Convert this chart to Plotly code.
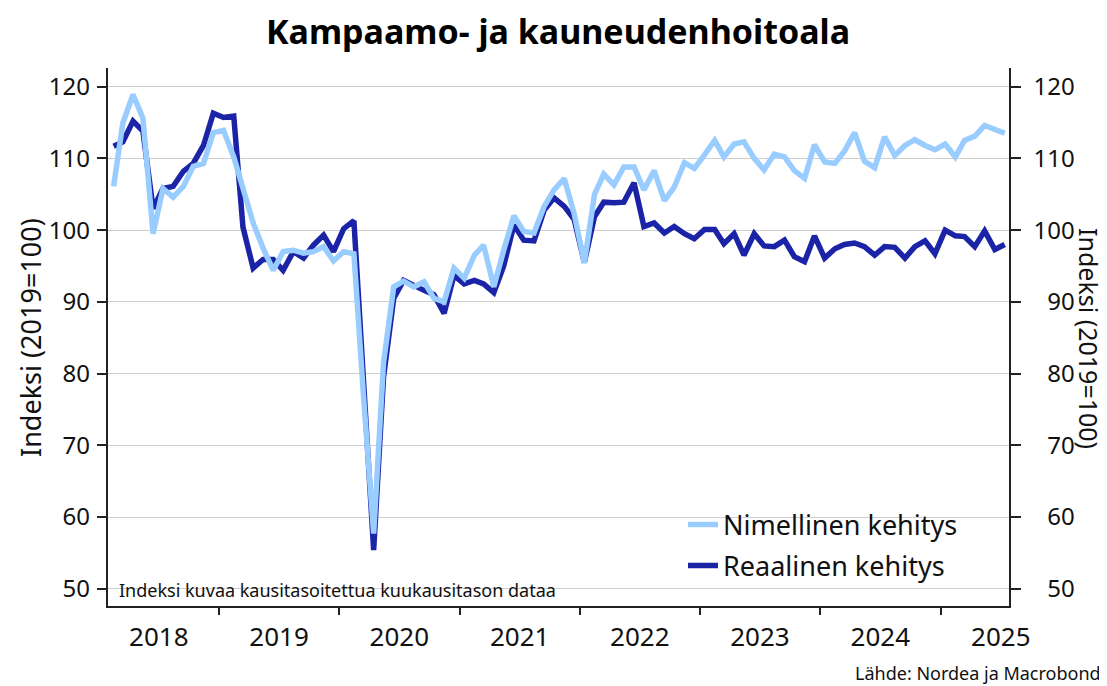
import pandas as pd
import plotly.graph_objects as go

# --- Data (monthly, Feb 2018 .. Jul 2025), index 2019=100 ---
start_month = "2018-02-01"
nimellinen = [
    106.1, 114.9, 118.9, 115.6, 99.5, 105.8, 104.6, 106.1, 108.9, 109.3, 113.6, 113.9,
    110.2, 106.0, 101.0, 97.5, 94.4, 97.0, 97.2, 96.8, 97.0, 97.7, 95.7, 97.0,
    96.7, 77.0, 57.7, 81.5, 92.1, 92.9, 92.1, 92.8, 90.5, 90.0, 94.7, 93.3,
    96.5, 97.9, 92.1, 97.2, 102.0, 99.8, 99.6, 103.3, 105.6, 107.2, 102.3, 95.4,
    105.0, 107.8, 106.3, 108.8, 108.8, 105.6, 108.3, 104.1, 106.0, 109.4, 108.6, 110.5,
    112.5, 110.2, 112.0, 112.3, 110.0, 108.4, 110.6, 110.2, 108.3, 107.2, 111.9, 109.5,
    109.3, 111.0, 113.6, 109.6, 108.7, 113.0, 110.4, 111.8, 112.6, 111.8, 111.2, 112.0,
    110.2, 112.5, 113.1, 114.6, 114.1, 113.5,
]
reaalinen = [
    111.7, 112.3, 115.2, 113.8, 103.0, 105.8, 106.1, 108.2, 109.3, 111.8, 116.3, 115.7,
    115.9, 100.4, 94.7, 95.9, 95.9, 94.4, 97.0, 96.1, 97.9, 99.3, 97.0, 100.2,
    101.3, 78.0, 55.4, 79.5, 90.5, 93.0, 92.2, 91.6, 91.0, 88.4, 93.7, 92.5,
    93.0, 92.5, 91.3, 95.0, 100.7, 98.6, 98.5, 102.8, 104.5, 103.3, 101.5, 95.5,
    101.9, 103.9, 103.8, 103.9, 106.6, 100.5, 101.0, 99.6, 100.5, 99.5, 98.8, 100.1,
    100.1, 98.1, 99.5, 96.5, 99.5, 97.8, 97.7, 98.6, 96.3, 95.6, 99.2, 96.1,
    97.4, 98.0, 98.2, 97.7, 96.5, 97.7, 97.6, 96.1, 97.7, 98.5, 96.7, 100.0,
    99.2, 99.1, 97.7, 99.9, 97.3, 98.0,
]
y_ticks = [50, 60, 70, 80, 90, 100, 110, 120]
title_text = "Kampaamo- ja kauneudenhoitoala"
y_title = "Indeksi (2019=100)"
note_text = "Indeksi kuvaa kausitasoitettua kuukausitason dataa"
source_text = "Lähde: Nordea ja Macrobond"
name_nom = "Nimellinen kehitys"
name_real = "Reaalinen kehitys"

dates = pd.date_range(start_month, periods=len(nimellinen), freq="MS") + pd.Timedelta(days=14)

FONT = "Noto Sans"
LIGHT = "#99CCFF"
DARK = "#1B23A6"
AXC = "#222222"

# page body adds an 8px offset; figure is sized so that it ends at the window edge
OFF = 8
W, H = 1107 - OFF, 686 - OFF
PL, PR, PT, PB = 108 - OFF, 1009 - OFF, 68 - OFF, 606 - OFF  # plot area in figure px
PW, PH = PR - PL, PB - PT


def px(xs):
    return (xs - OFF - PL) / PW


def py(ys):
    return (PB - (ys - OFF)) / PH


fig = go.Figure()
fig.add_trace(go.Scatter(x=dates, y=reaalinen, mode="lines", name=name_real,
                         line=dict(color=DARK, width=5.5), yaxis="y", legend="legend2"))
fig.add_trace(go.Scatter(x=dates, y=nimellinen, mode="lines", name=name_nom,
                         line=dict(color=LIGHT, width=5.5), yaxis="y2", legend="legend"))

yr = [47.6, 122.6]
# labels are right-aligned on both axes in the reference
left_text = [str(v) + "\u200a" for v in y_ticks]
right_text = ["\u2009\u2009" + ("\u2007" if v < 100 else "") + str(v) for v in y_ticks]

fig.update_layout(
    width=W, height=H,
    margin=dict(l=PL, r=W - PR, t=PT, b=H - PB, autoexpand=False),
    paper_bgcolor="white", plot_bgcolor="white",
    font=dict(family=FONT, size=24, color="#111111"),
    title=dict(text=title_text, x=(558 - OFF) / W, y=1 - (32 - OFF) / H, xref="container",
               yref="container", xanchor="center", yanchor="middle",
               font=dict(family=FONT, size=34, weight=700, color="#000000")),
    xaxis=dict(type="date", range=["2018-01-29", "2025-07-28"], tick0="2018-01-01", dtick="M12",
               tickformat="%Y", ticklabelmode="period", ticks="outside", ticklen=7, tickwidth=1.5,
               tickcolor=AXC, showline=True, linecolor=AXC, linewidth=1.5, showgrid=False,
               zeroline=False, tickfont=dict(size=26), fixedrange=True),
    yaxis=dict(range=yr, tickvals=y_ticks, ticktext=left_text, ticks="outside", ticklen=9,
               tickwidth=1.5, tickcolor=AXC,
               showline=True, linecolor=AXC, linewidth=1.5, showgrid=True, gridcolor="#CFCFCF",
               gridwidth=1, zeroline=False, tickfont=dict(size=24)),
    yaxis2=dict(range=yr, overlaying="y", side="right", tickvals=y_ticks, ticktext=right_text,
                ticks="outside", ticklen=10, tickwidth=1.5, tickcolor=AXC,
                showline=True, linecolor=AXC, linewidth=1.5, showgrid=False, zeroline=False,
                tickfont=dict(size=24)),
    legend=dict(x=px(683), y=py(525), xanchor="left", yanchor="middle",
                bgcolor="rgba(0,0,0,0)", font=dict(size=27), itemwidth=30),
    legend2=dict(x=px(683), y=py(566), xanchor="left", yanchor="middle",
                 bgcolor="rgba(0,0,0,0)", font=dict(size=27), itemwidth=30),
    showlegend=True,
)

# axis titles
fig.add_annotation(text=y_title, xref="paper", yref="paper", x=px(30), y=py(338),
                   xanchor="center", yanchor="middle", textangle=-90, showarrow=False,
                   font=dict(size=27, color="#111111"))
fig.add_annotation(text=y_title, xref="paper", yref="paper", x=px(1089), y=py(338),
                   xanchor="center", yanchor="middle", textangle=90, showarrow=False,
                   font=dict(size=25, color="#111111"))

fig.add_annotation(text=note_text, xref="paper", yref="paper", x=px(117),
                   y=py(590), xanchor="left", yanchor="middle", showarrow=False,
                   font=dict(size=18, color="#111111"))
fig.add_annotation(text=source_text, xref="paper", yref="paper", x=px(1103),
                   y=py(673), xanchor="right", yanchor="middle", showarrow=False,
                   font=dict(size=18, color="#111111"))

fig.write_html("out.html")
